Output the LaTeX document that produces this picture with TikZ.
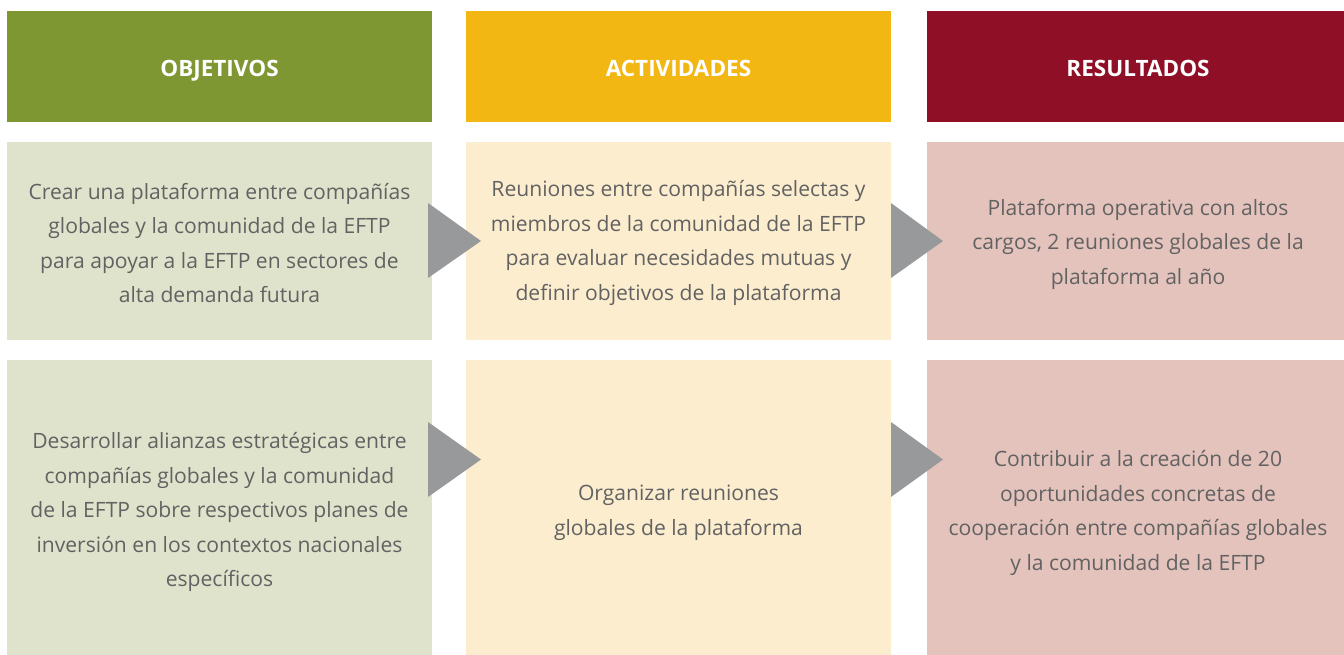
\documentclass[tikz,border=0pt]{standalone}
\usepackage{fontspec}
\setmainfont{Open Sans}
\usetikzlibrary{calc}
\definecolor{hgreen}{HTML}{7F9732}
\definecolor{lgreen}{HTML}{E0E3CC}
\definecolor{hyellow}{HTML}{F3B714}
\definecolor{lyellow}{HTML}{FCEDCF}
\definecolor{hred}{HTML}{8E0F26}
\definecolor{lred}{HTML}{E4C3BC}
\definecolor{tri}{HTML}{98999B}
\definecolor{txt}{HTML}{626262}
\begin{document}
\begin{tikzpicture}[x=1pt,y=-1pt,
  head/.style={text=white,anchor=base,font=\fontsize{22.5}{26}\selectfont\bfseries},
  body/.style={text=txt,align=center,font=\fontsize{21.1}{34.5}\selectfont},
  arrowtri/.style={fill=tri}]
\useasboundingbox[fill=white] (0,0) rectangle (1344,655);
% headers
\fill[hgreen] (7,11) rectangle (432,122);
\fill[hyellow] (466,11) rectangle (891,122);
\fill[hred] (927,11) rectangle (1344,122);
\node[head] (h1) at (219.5,76.5) {OBJETIVOS};
\node[head] (h2) at (678.5,76.5) {ACTIVIDADES};
\node[head] (h3) at (1138,76.5) {RESULTADOS};
% row 1
\fill[lgreen] (7,142) rectangle (432,340);
\fill[lyellow] (466,142) rectangle (891,340);
\fill[lred] (927,142) rectangle (1344,340);
\node[body] (o1) at (219.5,243) {Crear una plataforma entre compañías\\globales y la comunidad de la EFTP\\para apoyar a la EFTP en sectores de\\alta demanda futura};
\node[body] (a1) at (678.5,243) {Reuniones entre compañías selectas y\\miembros de la comunidad de la EFTP\\para evaluar necesidades mutuas y\\definir objetivos de la plataforma};
\node[body] (r1) at (1138,244) {Plataforma operativa con altos\\cargos, 2 reuniones globales de la\\plataforma al año};
% row 2
\fill[lgreen] (7,360) rectangle (432,655);
\fill[lyellow] (466,360) rectangle (891,655);
\fill[lred] (927,360) rectangle (1344,655);
\node[body] (o2) at (219.5,512) {Desarrollar alianzas estratégicas entre\\compañías globales y la comunidad\\de la EFTP sobre respectivos planes de\\inversión en los contextos nacionales\\específicos};
\node[body] (a2) at (678.5,513) {Organizar reuniones\\globales de la plataforma};
\node[body] (r2) at (1138,513) {Contribuir a la creación de 20\\oportunidades concretas de\\cooperación entre compañías globales\\y la comunidad de la EFTP};
% triangles
\fill[arrowtri] (428,203) -- (481,241) -- (428,278) -- cycle;
\fill[arrowtri] (891,203) -- (943,241) -- (891,278) -- cycle;
\fill[arrowtri] (428,422) -- (481,459.5) -- (428,497) -- cycle;
\fill[arrowtri] (891,422) -- (943,459.5) -- (891,497) -- cycle;
\end{tikzpicture}
\end{document}
